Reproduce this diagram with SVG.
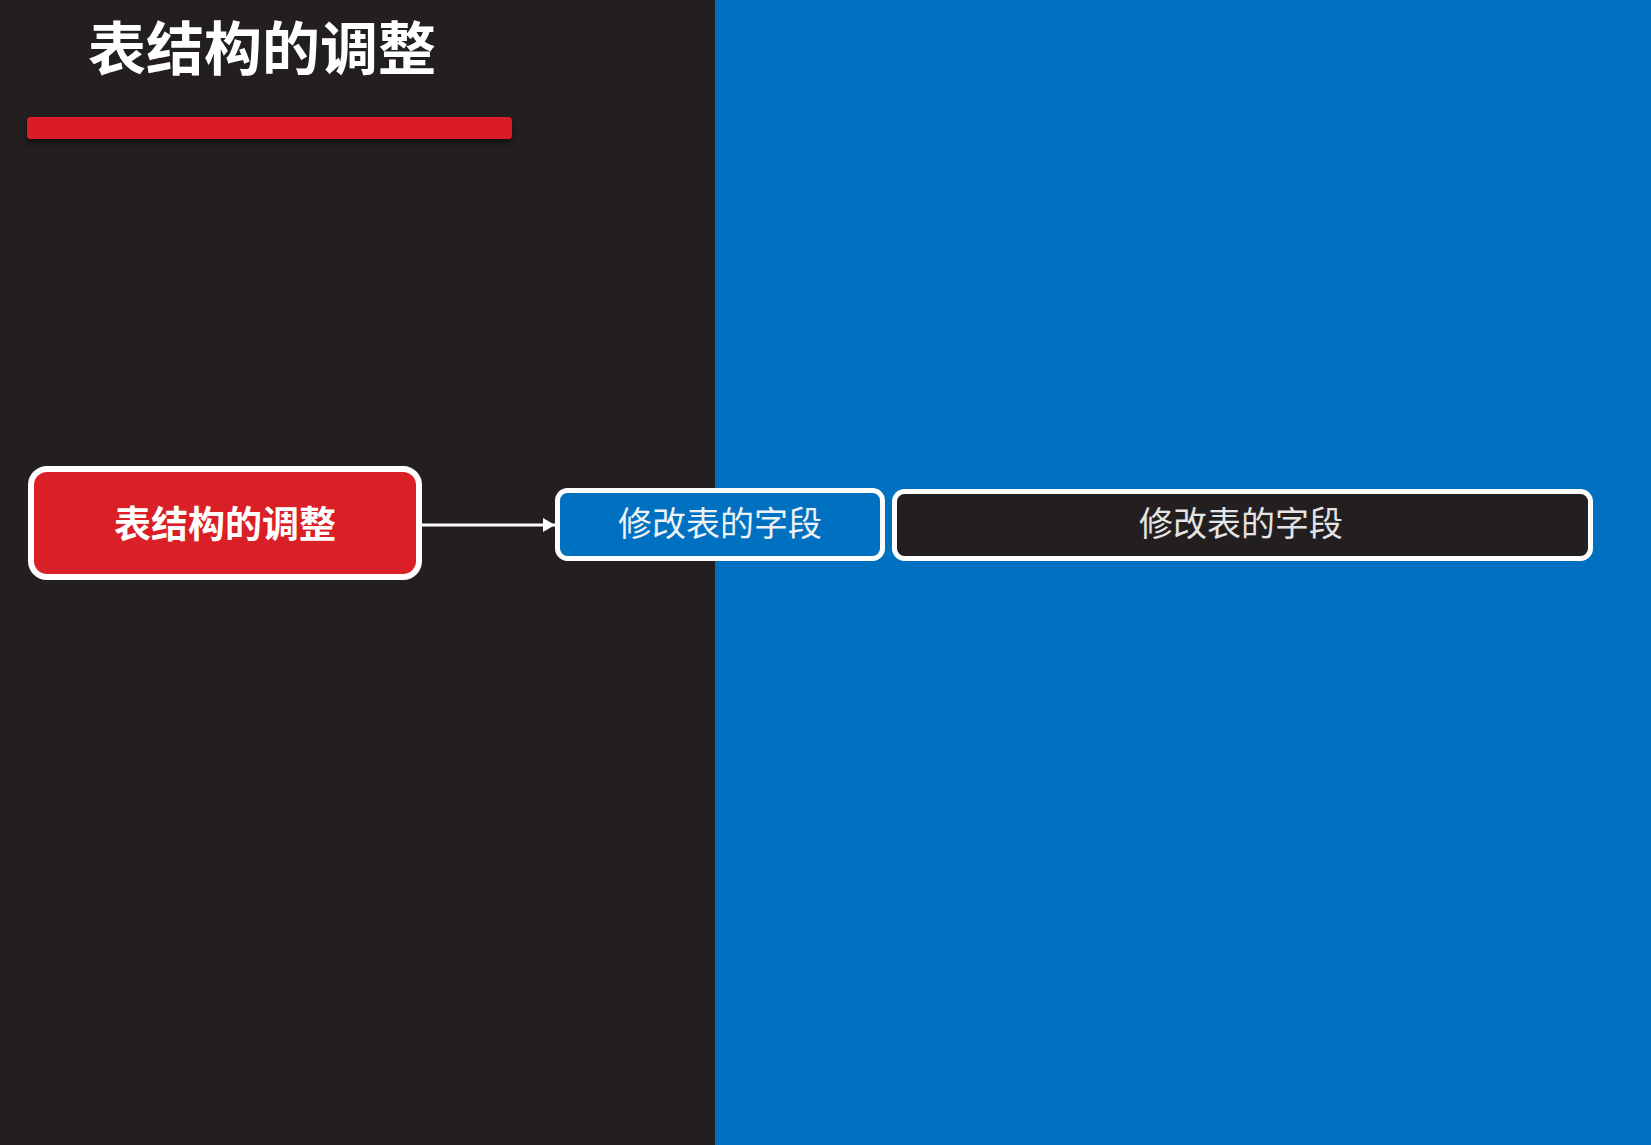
<svg xmlns="http://www.w3.org/2000/svg" width="1651" height="1145" viewBox="0 0 1651 1145">
  <style>
    text { font-family: "Noto Sans CJK SC", "Noto Sans", sans-serif; text-anchor: middle; dominant-baseline: central; }
    .title { font-size: 58px; font-weight: bold; fill: #ffffff; }
    .root-text { font-size: 37px; font-weight: bold; fill: #ffffff; }
    .leaf-text { font-size: 34px; fill: #eef2f6; }
    .leaf-text2 { font-size: 34px; fill: #e4e4e4; }
    .box { stroke: #ffffff; }
    .conn { stroke: #ffffff; stroke-width: 3; fill: none; }
  </style>
  <defs>
    <marker id="arrow" markerWidth="12" markerHeight="14" refX="12" refY="7" orient="auto" markerUnits="userSpaceOnUse">
      <path d="M0,0 L12,7 L0,14 Z" fill="#ffffff"/>
    </marker>
    <filter id="shadow" x="-5%" y="-50%" width="110%" height="220%">
      <feDropShadow dx="0" dy="4" stdDeviation="3" flood-color="#000000" flood-opacity="0.55"/>
    </filter>
  </defs>

  <!-- backgrounds -->
  <rect x="0" y="0" width="715" height="1145" fill="#231f20"/>
  <rect x="715" y="0" width="936" height="1145" fill="#0070c0"/>

  <!-- title -->
  <g id="title">
    <text class="title" x="262" y="45">表结构的调整</text>
    <rect x="27" y="117" width="485" height="22" rx="4" fill="#da1f26" filter="url(#shadow)"/>
  </g>

  <!-- connectors -->
  <g id="connectors">
    <line class="conn" x1="422" y1="525" x2="555" y2="525" marker-end="url(#arrow)"/>
  </g>

  <!-- nodes -->
  <g id="node-root">
    <rect class="box" x="31" y="469" width="388" height="108" rx="16" fill="#da1f26" stroke-width="6"/>
    <text class="root-text" x="225" y="522">表结构的调整</text>
  </g>
  <g id="node-modify">
    <rect class="box" x="557.5" y="490.5" width="325" height="68" rx="10" fill="#0070c0" stroke-width="5"/>
    <text class="leaf-text" x="720" y="521">修改表的字段</text>
  </g>
  <g id="node-detail">
    <rect class="box" x="894.5" y="491.5" width="696" height="67" rx="10" fill="#231f20" stroke-width="5"/>
    <text class="leaf-text2" x="1241" y="521">修改表的字段</text>
  </g>
</svg>
